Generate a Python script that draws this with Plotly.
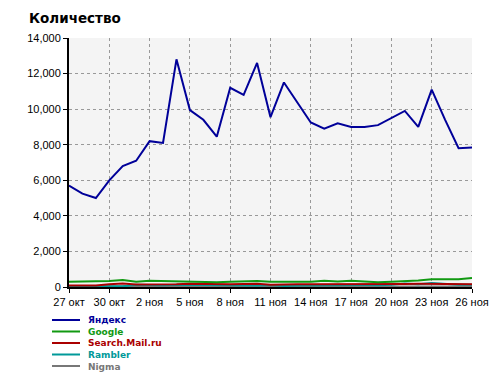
import plotly.graph_objects as go
import pandas as pd

dates = pd.date_range("2009-10-27", "2009-11-26", freq="D").strftime("%Y-%m-%d").tolist()

yandex = [5700, 5250, 5000, 6000, 6800, 7100, 8200, 8100, 12800, 9950, 9400, 8450,
          11200, 10800, 12600, 9550, 11500, 10350, 9250, 8900, 9200, 9000, 9000,
          9100, 9500, 9900, 9000, 11100, 9400, 7800, 7850]
google = [300, 300, 330, 340, 400, 300, 350, 330, 300, 300, 260, 270, 300, 330, 340,
          290, 280, 310, 300, 350, 310, 350, 300, 270, 300, 310, 360, 440, 420, 430, 500]
mail = [80, 80, 90, 150, 200, 140, 140, 130, 150, 180, 160, 140, 150, 170, 180, 120,
        150, 160, 160, 160, 170, 160, 130, 170, 170, 170, 180, 170, 160, 160, 160]
rambler = [60, 60, 60, 60, 40, 120, 100, 100, 120, 110, 100, 100, 110, 100, 90, 110,
           60, 90, 100, 100, 100, 100, 110, 100, 120, 200, 150, 220, 160, 130, 120]
nigma = [30, 30, 30, 30, 30, 30, 30, 30, 30, 30, 30, 30, 30, 30, 30, 30, 30, 30, 30,
         30, 30, 30, 30, 30, 30, 30, 30, 30, 30, 30, 30]

series_names = ["Яндекс", "Google", "Search.Mail.ru", "Rambler", "Nigma"]
series_values = [yandex, google, mail, rambler, nigma]
series_colors = ["#000099", "#119911", "#aa0000", "#009999", "#777777"]

tick_vals = dates[::3]
tick_text = ["27 окт", "30 окт", "2 ноя", "5 ноя", "8 ноя", "11 ноя",
             "14 ноя", "17 ноя", "20 ноя", "23 ноя", "26 ноя"]
y_ticks = [0, 2000, 4000, 6000, 8000, 10000, 12000, 14000]

fig = go.Figure()
for name, vals, col in reversed(list(zip(series_names, series_values, series_colors))):
    fig.add_trace(go.Scatter(x=dates, y=vals, name=name, mode="lines",
                             line=dict(color=col, width=2), showlegend=False))

# manual compact legend (line samples + one multi-line coloured text block)
legend_ys = [-0.1325, -0.1787, -0.2249, -0.2711, -0.3173]
shapes = []
for yy, col in zip(legend_ys, series_colors):
    shapes.append(dict(type="line", xref="paper", yref="paper",
                       x0=-0.0422, x1=0.0273, y0=yy, y1=yy,
                       line=dict(color=col, width=2)))
legend_text = "<br>".join(
    '<span style="color:%s"><b>%s</b></span>' % (col, name)
    for name, col in zip(series_names, series_colors))
annotations = [
    dict(xref="paper", yref="paper", x=0.045, y=legend_ys[2],
         text=legend_text, showarrow=False, align="left",
         xanchor="left", yanchor="middle", borderpad=0,
         font=dict(family="DejaVu Sans", size=9)),
    dict(xref="paper", yref="paper", x=-0.1017, y=1.0803,
         text="<b>Количество</b>", showarrow=False,
         xanchor="left", yanchor="middle", borderpad=0,
         font=dict(family="DejaVu Sans", size=13.5, color="#000000")),
]

fig.update_layout(
    width=492, height=369,
    margin=dict(l=61, r=28, t=30, b=90),
    paper_bgcolor="#ffffff",
    plot_bgcolor="#f4f4f4",
    font=dict(family="Liberation Sans, Arial, sans-serif", size=11, color="#000000"),
    shapes=shapes,
    annotations=annotations,
    showlegend=False,
)
fig.update_xaxes(
    range=[dates[0], dates[-1]],
    tickvals=tick_vals, ticktext=tick_text,
    showgrid=True, gridcolor="#999999", griddash="dot", gridwidth=1,
    showline=True, linecolor="#000000", linewidth=2,
    ticks="outside", ticklen=4, tickcolor="#000000",
    zeroline=False,
)
fig.update_yaxes(
    range=[0, 14000],
    tickvals=y_ticks, tickformat=",d",
    showgrid=True, gridcolor="#999999", griddash="dot", gridwidth=1,
    showline=True, linecolor="#000000", linewidth=2,
    ticks="outside", ticklen=4, tickcolor="#000000",
    zeroline=False,
)

fig.write_html("out.html")
